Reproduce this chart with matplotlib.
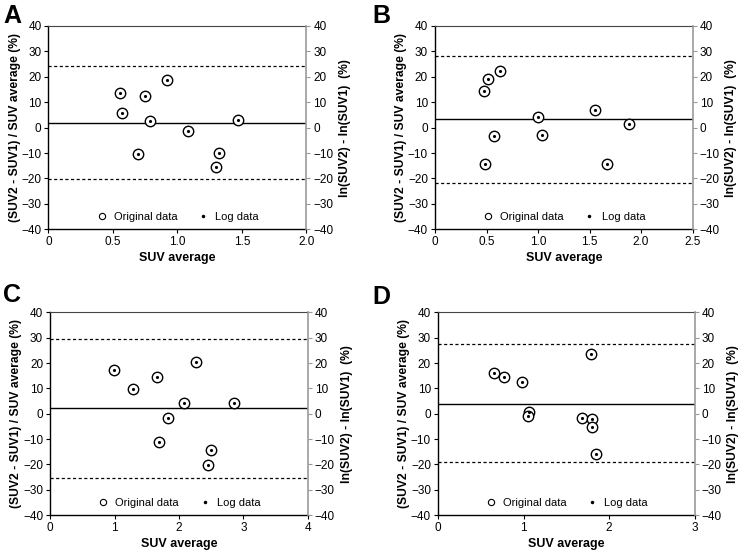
#!/usr/bin/env python3
import matplotlib
matplotlib.use("Agg")
import matplotlib.pyplot as plt
from matplotlib.lines import Line2D

plt.rcParams['font.family'] = ['Liberation Sans', 'DejaVu Sans']

# panel A
a_x = [0.555, 0.568, 0.751, 0.787, 0.916, 0.692, 1.084, 1.319, 1.301, 1.468]
a_y = [13.8, 5.6, 12.5, 2.5, 18.9, -10.4, -1.4, -9.8, -15.6, 3.0]
a_lines = [1.7, 24.1, -20.3]   # mean, upper limit, lower limit
a_xticks = [0, 0.5, 1.0, 1.5, 2.0]
a_xlabels = ['0', '0.5', '1.0', '1.5', '2.0']

# panel B
b_x = [0.475, 0.517, 0.627, 0.576, 0.488, 0.999, 1.041, 1.556, 1.669, 1.879]
b_y = [14.6, 19.0, 22.2, -3.4, -14.2, 4.1, -3.0, 6.8, -14.3, 1.3]
b_lines = [3.4, 28.2, -21.6]
b_xticks = [0, 0.5, 1.0, 1.5, 2.0, 2.5]
b_xlabels = ['0', '0.5', '1.0', '1.5', '2.0', '2.5']

# panel C
c_x = [0.996, 1.285, 1.662, 2.261, 2.07, 2.86, 1.827, 1.688, 2.498, 2.446]
c_y = [17.1, 9.9, 14.6, 20.4, 4.1, 4.3, -1.8, -11.3, -14.2, -20.1]
c_lines = [2.1, 29.3, -25.3]
c_xticks = [0, 1, 2, 3, 4]
c_xlabels = ['0', '1', '2', '3', '4']

# panel D
d_x = [0.651, 0.771, 0.982, 1.784, 1.067, 1.052, 1.683, 1.796, 1.804, 1.851]
d_y = [16.2, 14.5, 12.4, 23.4, 0.8, -0.8, -1.8, -2.0, -5.4, -15.8]
d_lines = [3.9, 27.6, -19.2]
d_xticks = [0, 1, 2, 3]
d_xlabels = ['0', '1', '2', '3']

yticks = [-40, -30, -20, -10, 0, 10, 20, 30, 40]

fig = plt.figure(figsize=(7.4, 5.53), dpi=100)

# letter position given in pixels (x from left, y from top)
panels = [
    ('A', (3, 16), [0.0655, 0.5854, 0.3486, 0.3676], a_x, a_y, a_lines, a_xticks, a_xlabels),
    ('B', (372, 16), [0.5878, 0.5854, 0.3482, 0.3676], b_x, b_y, b_lines, b_xticks, b_xlabels),
    ('C', (3, 295), [0.0676, 0.0687, 0.3486, 0.3665], c_x, c_y, c_lines, c_xticks, c_xlabels),
    ('D', (372, 297), [0.5919, 0.0687, 0.3469, 0.3665], d_x, d_y, d_lines, d_xticks, d_xlabels),
]

fs = 8.5
for letter, lpos, rect, xs, ys, lines, xt, xl in panels:
    ax = fig.add_axes(rect)
    xmax = xt[-1]
    ax.set_xlim(0, xmax)
    ax.set_ylim(-40, 40)
    ax.axhline(lines[0], color='black', lw=1.0)
    ax.axhline(lines[1], color='black', lw=0.9, ls=(0, (2.5, 2)))
    ax.axhline(lines[2], color='black', lw=0.9, ls=(0, (2.5, 2)))
    # original data (open circles) and log data (dots)
    ax.plot(xs, ys, 'o', ms=7.5, mfc='white', mec='black', mew=1.0)
    ax.plot(xs, ys, '.', ms=2.5, color='black')
    ax.set_xticks(xt)
    ax.set_xticklabels(xl)
    ax.set_yticks(yticks)
    ax.tick_params(labelsize=fs, length=3, width=0.8, direction='out', pad=2)
    ax.set_xlabel('SUV average', fontsize=9, fontweight='bold', labelpad=3)
    ax.set_ylabel('(SUV2 - SUV1) / SUV average (%)', fontsize=8.7,
                  fontweight='bold', labelpad=0.5)
    ax.spines['left'].set_linewidth(1.0)
    ax.spines['bottom'].set_linewidth(1.0)
    ax.spines['top'].set_color('#444444')
    ax.spines['top'].set_linewidth(0.8)
    ax.spines['right'].set_visible(False)

    ax2 = ax.twinx()
    ax2.set_ylim(-40, 40)
    ax2.set_yticks(yticks)
    ax2.spines['right'].set_color('#999999')
    ax2.spines['right'].set_linewidth(1.2)
    for s in ['left', 'top', 'bottom']:
        ax2.spines[s].set_visible(False)
    ax2.tick_params(labelsize=fs, length=3, width=0.8, color='#999999', pad=2)
    ax2.set_ylabel('ln(SUV2) - ln(SUV1)  (%)', fontsize=8.7,
                   fontweight='bold', labelpad=4)

    handles = [
        Line2D([], [], ls='none', marker='o', ms=4.5, mfc='white', mec='black', mew=0.8),
        Line2D([], [], ls='none', marker='.', ms=3, color='black'),
    ]
    ax.legend(handles, ['Original data', 'Log data'], loc='lower center',
              bbox_to_anchor=(0.5, -0.015), ncol=2, frameon=False, fontsize=8,
              handletextpad=0.6, columnspacing=1.8, handlelength=1.0)

    fig.text(lpos[0] / 740, 1 - lpos[1] / 553, letter,
             fontsize=18, fontweight='bold', va='center', ha='left')

fig.savefig('out.png', dpi=100)
